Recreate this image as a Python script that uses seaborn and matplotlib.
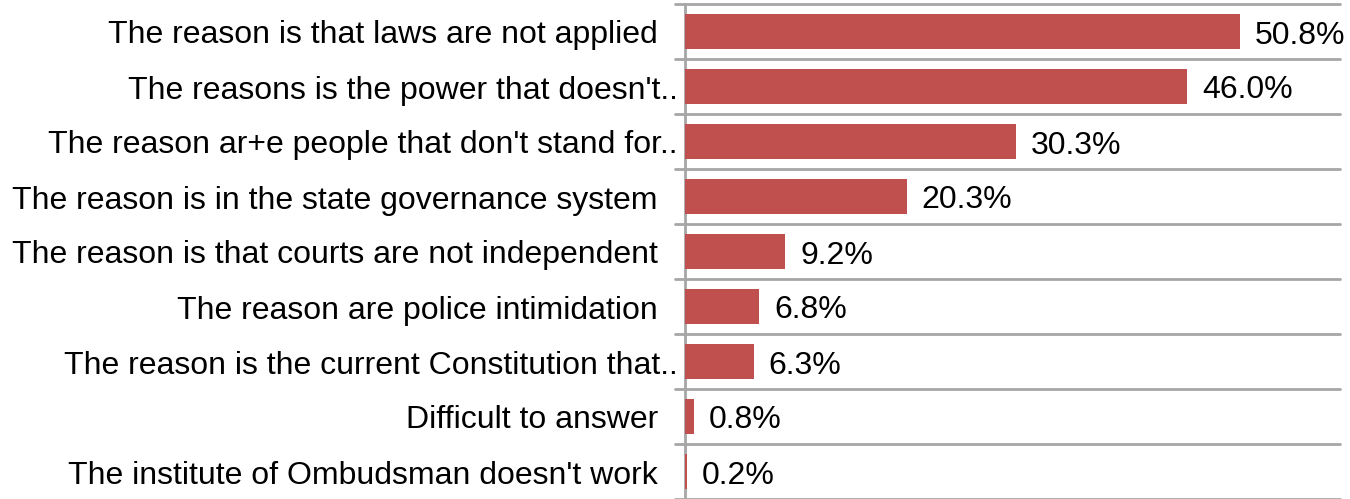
import pandas as pd
import matplotlib
matplotlib.use("Agg")
import matplotlib.pyplot as plt
import seaborn as sns

categories = [
    "The reason is that laws are not applied",
    "The reasons is the power that doesn't..",
    "The reason ar+e people that don't stand for..",
    "The reason is in the state governance system",
    "The reason is that courts are not independent",
    "The reason are police intimidation",
    "The reason is the current Constitution that..",
    "Difficult to answer",
    "The institute of Ombudsman doesn't work",
]
values = [50.8, 46.0, 30.3, 20.3, 9.2, 6.8, 6.3, 0.8, 0.2]
value_labels = ["50.8%", "46.0%", "30.3%", "20.3%", "9.2%", "6.8%", "6.3%", "0.8%", "0.2%"]

df = pd.DataFrame({"reason": categories, "share": values})

sns.set_style("white")
plt.rcParams["font.family"] = ["Liberation Sans", "DejaVu Sans"]

fig = plt.figure(figsize=(13.5, 4.99), dpi=100)
ax = fig.add_axes([685 / 1350, 0.0, 655 / 1350, 495 / 499])

sns.barplot(data=df, x="share", y="reason", orient="h", color="#C0504D",
            saturation=1, width=0.64, linewidth=0, ax=ax)

ax.set_xlim(0, 60)
ax.set_ylim(len(categories) - 0.5, -0.5)
ax.set_xlabel("")
ax.set_ylabel("")
ax.set_xticks([])

# category labels (truncated ones sit closer to the axis)
ax.set_yticks([])
for i, lab in enumerate(categories):
    off = -7 if lab.endswith("..") else -27
    ax.annotate(lab, xy=(0, i), xytext=(off, -4), textcoords="offset pixels",
                ha="right", va="center", fontsize=23, color="#000000")

# value labels
for i, (v, lab) in enumerate(zip(values, value_labels)):
    ax.annotate(lab, xy=(v, i), xytext=(15, -4), textcoords="offset pixels",
                ha="left", va="center", fontsize=23, color="#000000")

# separators between categories
bounds = [i - 0.5 for i in range(len(categories) + 1)]
for b in bounds:
    ax.axhline(b, xmin=-10 / 655, xmax=1, color="#A6A6A6", lw=2,
               clip_on=False, zorder=0.5)

for s in ["top", "right", "bottom"]:
    ax.spines[s].set_visible(False)
ax.spines["left"].set_color("#A6A6A6")
ax.spines["left"].set_linewidth(2)
ax.spines["left"].set_zorder(0.5)

fig.savefig("out.png", dpi=100)
